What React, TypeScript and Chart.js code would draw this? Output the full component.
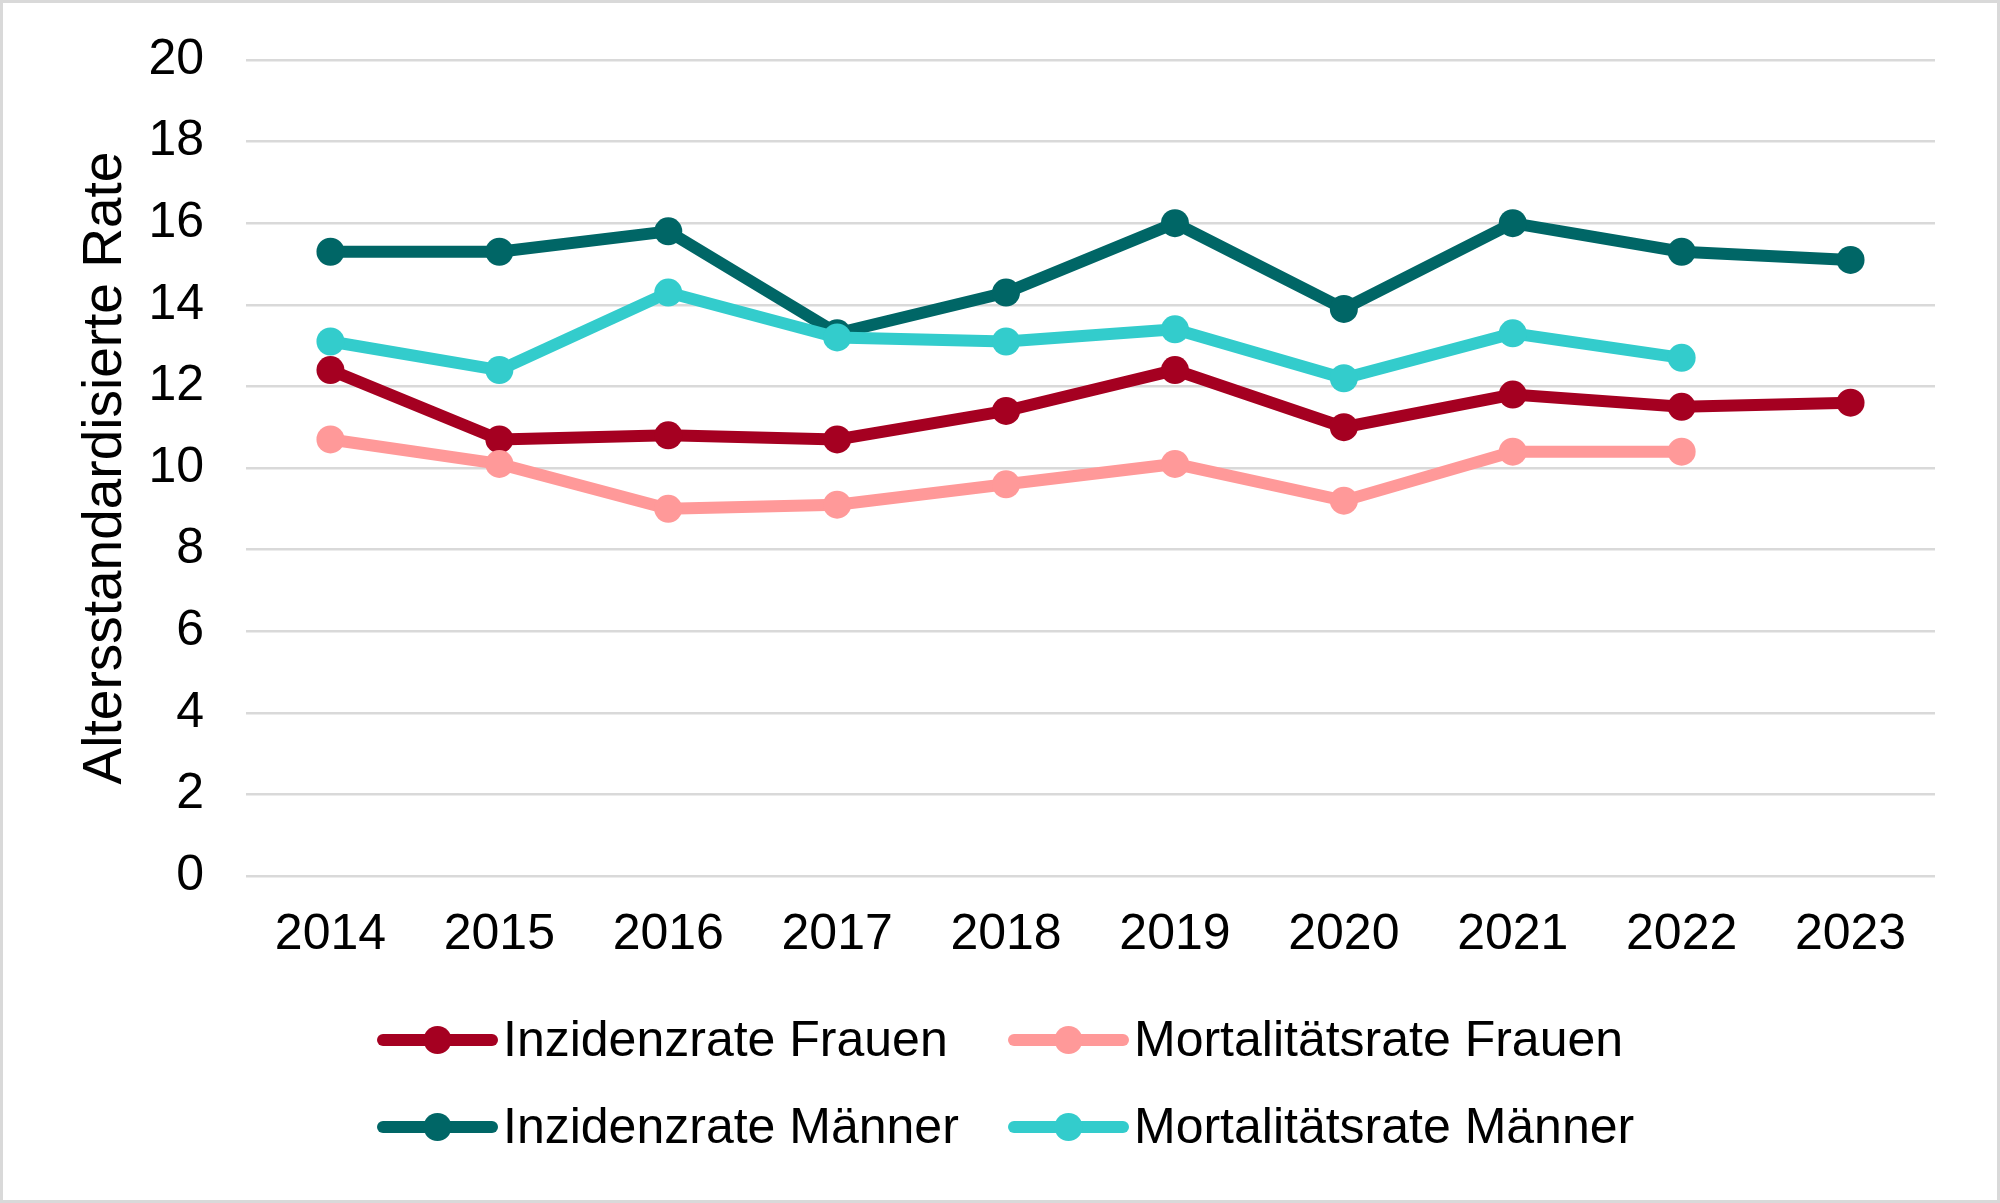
import React, { useEffect, useRef } from "react";
import { Chart, registerables } from "chart.js";

Chart.register(...registerables);

const years = ["2014", "2015", "2016", "2017", "2018", "2019", "2020", "2021", "2022", "2023"];
const inzidenzFrauen = [12.4, 10.7, 10.8, 10.7, 11.4, 12.4, 11.0, 11.8, 11.5, 11.6];
const mortalitaetFrauen = [10.7, 10.1, 9.0, 9.1, 9.6, 10.1, 9.2, 10.4, 10.4, null];
const inzidenzMaenner = [15.3, 15.3, 15.8, 13.3, 14.3, 16.0, 13.9, 16.0, 15.3, 15.1];
const mortalitaetMaenner = [13.1, 12.4, 14.3, 13.2, 13.1, 13.4, 12.2, 13.3, 12.7, null];

const seriesLabels = ["Inzidenzrate Frauen", "Mortalitätsrate Frauen", "Inzidenzrate Männer", "Mortalitätsrate Männer"];
const seriesColors = ["#A50021", "#FF9999", "#006666", "#33CCCC"];
const yMin = 0;
const yMax = 20;
const yStep = 2;
const axisTitle = "Altersstandardisierte Rate";

const FONT = "'Liberation Sans', Arial, sans-serif";

const legendPlugin = {
  id: "customLegend",
  afterDraw(chart: any) {
    const ctx = chart.ctx as CanvasRenderingContext2D;
    const cols = [375, 1006];
    const rows = [1037, 1124];
    const lineLen = 119;
    ctx.save();
    chart.data.datasets.forEach((ds: any, i: number) => {
      const x = cols[i % 2];
      const y = rows[Math.floor(i / 2)];
      ctx.strokeStyle = ds.borderColor;
      ctx.lineWidth = 12;
      ctx.lineCap = "round";
      ctx.beginPath();
      ctx.moveTo(x + 5, y);
      ctx.lineTo(x + lineLen - 5, y);
      ctx.stroke();
      ctx.fillStyle = ds.borderColor;
      ctx.beginPath();
      ctx.arc(x + lineLen / 2, y, 14, 0, Math.PI * 2);
      ctx.fill();
      ctx.fillStyle = "#000000";
      ctx.font = `50px ${FONT}`;
      ctx.textAlign = "left";
      ctx.textBaseline = "middle";
      ctx.fillText(ds.label, x + lineLen + 6, y + 2);
    });
    ctx.restore();
  },
};

export default function App() {
  const canvasRef = useRef<HTMLCanvasElement | null>(null);

  useEffect(() => {
    document.body.style.margin = "0";
    const canvas = canvasRef.current;
    if (!canvas) return;
    const seriesData = [inzidenzFrauen, mortalitaetFrauen, inzidenzMaenner, mortalitaetMaenner];
    const chart = new Chart(canvas, {
      type: "line",
      data: {
        labels: years,
        datasets: seriesData.map((d, i) => ({
          label: seriesLabels[i],
          data: d,
          borderColor: seriesColors[i],
          backgroundColor: seriesColors[i],
          pointBackgroundColor: seriesColors[i],
          pointBorderColor: seriesColors[i],
          pointBorderWidth: 0,
          pointRadius: 14,
          pointHoverRadius: 14,
          borderWidth: 12,
          tension: 0,
          fill: false,
          order: 4 - i,
          clip: false,
        })),
      },
      options: {
        animation: false,
        responsive: true,
        maintainAspectRatio: false,
        devicePixelRatio: 1,
        layout: { padding: { top: 57, left: 0, right: 62, bottom: 224 } },
        plugins: {
          legend: { display: false },
          tooltip: { enabled: false },
        },
        scales: {
          x: {
            type: "category",
            offset: true,
            grid: { display: false, drawTicks: false },
            border: { display: false },
            ticks: {
              color: "#000000",
              font: { family: FONT, size: 50 },
              padding: 29,
              maxRotation: 0,
              autoSkip: false,
            },
            afterFit(scale: any) {
              scale.height = 100;
              scale.paddingLeft = 0;
              scale.paddingRight = 0;
            },
          },
          y: {
            min: yMin,
            max: yMax,
            grid: { color: "#D9D9D9", lineWidth: 2.5, drawTicks: false },
            border: { display: false },
            ticks: {
              stepSize: yStep,
              color: "#000000",
              font: { family: FONT, size: 50 },
              padding: 42,
            },
            title: {
              display: true,
              text: axisTitle,
              color: "#000000",
              font: { family: FONT, size: 55 },
              padding: { top: 70, bottom: 0 },
            },
            afterFit(scale: any) {
              scale.width = 243;
              scale.paddingTop = 0;
              scale.paddingBottom = 0;
            },
          },
        },
      },
      plugins: [legendPlugin],
    });
    return () => chart.destroy();
  }, []);

  return (
    <div
      style={{
        width: 2000,
        height: 1203,
        boxSizing: "border-box",
        border: "3px solid #D9D9D9",
        background: "#FFFFFF",
        position: "relative",
      }}
    >
      <canvas ref={canvasRef} />
    </div>
  );
}
